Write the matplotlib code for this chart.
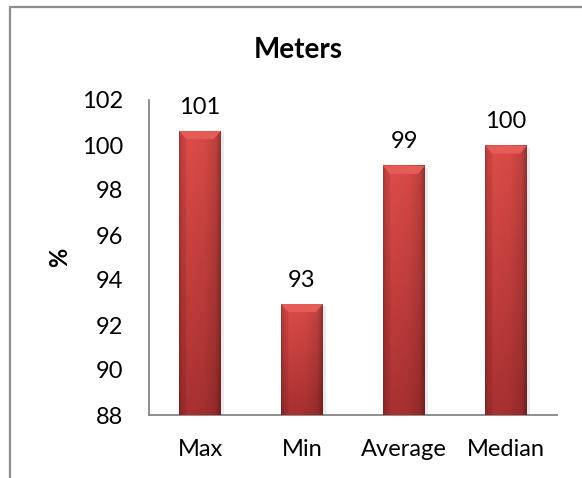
import numpy as np
import matplotlib
matplotlib.use("Agg")
import matplotlib.pyplot as plt
from matplotlib.patches import Rectangle, Polygon

plt.rcParams['font.family'] = ['Lato', 'DejaVu Sans']

# data
categories = ['Max', 'Min', 'Average', 'Median']
values = [100.62, 92.93, 99.07, 99.97]
y_ticks = [88, 90, 92, 94, 96, 98, 100, 102]

W, H = 582, 478
fig = plt.figure(figsize=(W / 100, H / 100), dpi=100)
fig.patch.set_facecolor('white')

# outer chart frame (runs off the right and bottom edges)
fig.add_artist(Rectangle((10 / W, -0.1), 1.2, 1 - 7 / H + 0.1,
                         transform=fig.transFigure, fill=False,
                         edgecolor='#8e8e8e', lw=1.6))

ax = fig.add_axes([149 / W, 1 - 415 / H, 408 / W, 315 / H])
ax.set_facecolor('none')

x = np.arange(len(categories))
bar_w = 0.41
bars = ax.bar(x, np.array(values) - 88, bar_w, bottom=88,
              facecolor='none', edgecolor='none', zorder=3)

# shading for each bar: light at top-left, darker to the bottom and right edge
nh, nw = 200, 60
u = np.linspace(0, 1, nw)
v = np.linspace(0, 1, nh)[:, None]
side = np.interp(u, [0, 0.06, 0.2, 0.6, 0.88, 1.0], [0.78, 0.93, 1.0, 0.97, 0.86, 0.66])
top_c = np.array([0.87, 0.30, 0.29])
bot_c = np.array([0.66, 0.19, 0.19])
base = top_c + (bot_c - top_c) * v[..., None]
grad = np.clip(base * side[None, :, None], 0, 1)

px_per_unit = 315 / 14
bevel = 8 / px_per_unit
for b in bars:
    x0 = b.get_x()
    x1 = x0 + b.get_width()
    y1 = b.get_y() + b.get_height()
    # soft shadow on the right
    ax.add_patch(Rectangle((x1, 88), 0.03, y1 - 88 - 0.1, facecolor='#000000',
                           alpha=0.08, edgecolor='none', zorder=2))
    ax.imshow(grad, extent=(x0, x1, 88, y1), aspect='auto', origin='upper',
              zorder=3, clip_path=b, interpolation='bilinear')
    inset = b.get_width() * 0.17
    ax.add_patch(Polygon([(x0, y1), (x1, y1), (x1 - inset, y1 - bevel), (x0 + inset, y1 - bevel)],
                         closed=True, facecolor='#e45b58', edgecolor='none', zorder=4))
    ax.add_patch(Polygon([(x0, y1), (x0 + inset, y1 - bevel), (x0 + inset, 88), (x0, 88)],
                         closed=True, facecolor='#000000', alpha=0.06, edgecolor='none', zorder=4))

for xi, val in zip(x, values):
    ax.annotate(f"{val:.0f}", (xi, val), xytext=(0, 12.6), textcoords='offset points',
                ha='center', va='baseline', fontsize=17, color='black', zorder=5)

ax.set_xlim(-0.5, 3.5)
ax.set_ylim(88, 102)
ax.set_yticks(y_ticks)
ax.set_xticks(x)
ax.set_xticklabels(categories)
ax.tick_params(axis='both', length=0, labelsize=17, colors='black')
ax.tick_params(axis='y', pad=18.5)
ax.tick_params(axis='x', pad=17)
for s in ['top', 'right']:
    ax.spines[s].set_visible(False)
for s in ['left', 'bottom']:
    ax.spines[s].set_color('#868686')
    ax.spines[s].set_linewidth(1.3)

fig.text(298 / W, 1 - 58 / H, 'Meters', ha='center', va='baseline',
         fontsize=20, fontweight='bold')
fig.text(60 / W, 1 - 257 / H, '%', rotation=90, ha='center', va='center',
         fontsize=17, fontweight='bold')

fig.savefig('out.png', dpi=100)
